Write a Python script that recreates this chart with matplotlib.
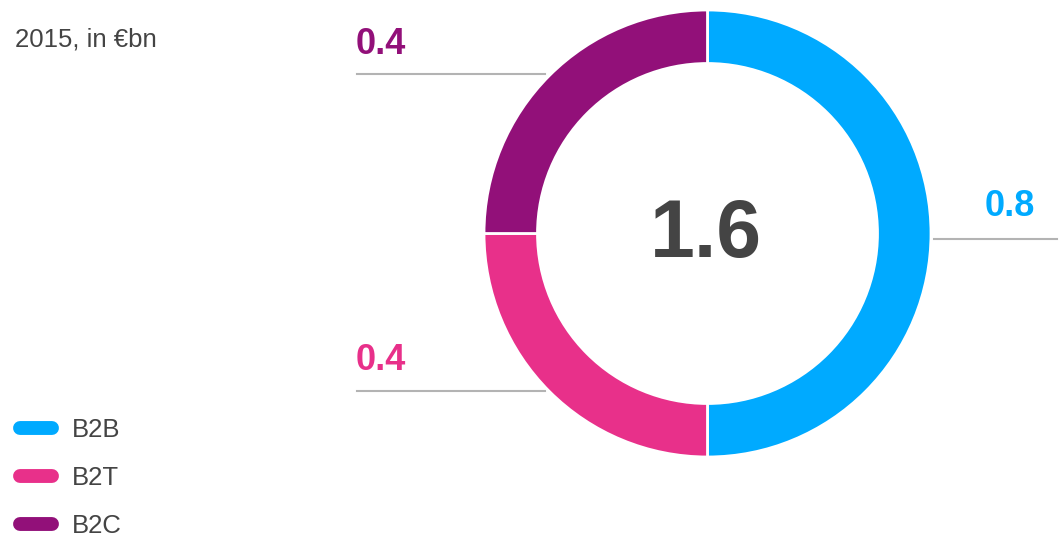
import matplotlib
matplotlib.use("Agg")
import matplotlib.pyplot as plt
from matplotlib.lines import Line2D

plt.rcParams['font.family'] = ['Liberation Sans', 'DejaVu Sans']

# data
categories = ['B2B', 'B2T', 'B2C']
values = [0.8, 0.4, 0.4]
colors = ['#00AAFF', '#E8308A', '#921079']
total_label = '1.6'
subtitle = '2015, in €bn'

W, H = 1059, 540
fig = plt.figure(figsize=(W / 100, H / 100), dpi=100)
ax = fig.add_axes([0, 0, 1, 1])

cx, cy, r = 707.5, H - 233.5, 223.5
ax.pie(values, colors=colors, startangle=90, counterclock=False,
       center=(cx, cy), radius=r, frame=True,
       wedgeprops=dict(width=53.5, edgecolor='white', linewidth=2))
ax.set_xlim(0, W)
ax.set_ylim(0, H)
ax.set_aspect('equal')
ax.axis('off')

# total in the middle
ax.text(cx - 2, cy - 3, total_label, ha='center', va='center',
        fontsize=58, fontweight='bold', color='#444444')

# value labels with leader lines
lbl = [
    # (value idx, text x, text y, line x0, line x1, line y)
    (0, 985, H - 207, 934, 1057, H - 239),
    (1, 356, H - 360, 357, 545, H - 391),
    (2, 356, H - 44, 357, 545, H - 74),
]
for i, tx, ty, x0, x1, ly in lbl:
    ax.plot([x0, x1], [ly, ly], color='#B3B3B3', lw=1.5, zorder=0)
    ax.text(tx, ty, f'{values[i]:.1f}', ha='left', va='center',
            fontsize=26, fontweight='bold', color=colors[i])

ax.text(15, H - 39, subtitle, ha='left', va='center', fontsize=18.5, color='#444444')

handles = [Line2D([0], [0], color=c, lw=10, solid_capstyle='round') for c in colors]
leg = ax.legend(handles, categories, loc='upper left',
                bbox_to_anchor=(0.0, 1 - 398 / H), frameon=False,
                fontsize=18.5, handlelength=1.24, handletextpad=0.79,
                labelspacing=0.93, borderaxespad=0.38)
for t in leg.get_texts():
    t.set_color('#444444')

fig.savefig('out.png', dpi=100)
